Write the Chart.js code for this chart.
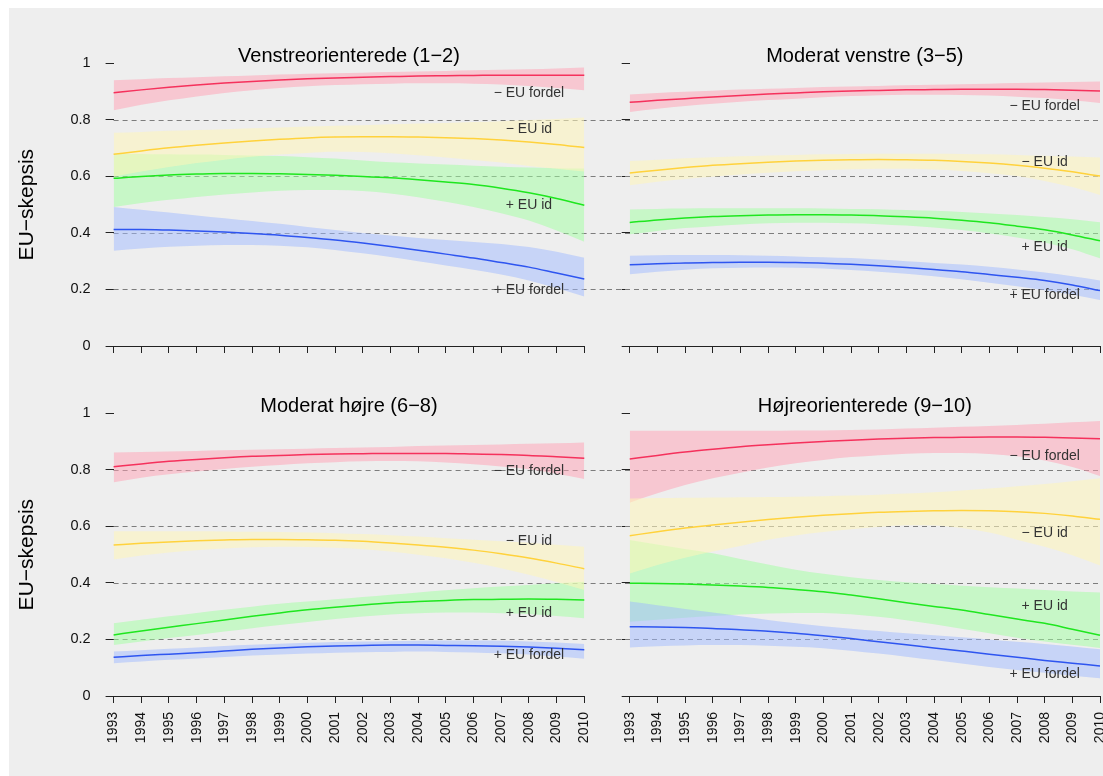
<!DOCTYPE html>
<html>
<head>
<meta charset="utf-8">
<script src="https://cdn.jsdelivr.net/npm/chart.js@4.4.1/dist/chart.umd.min.js"></script>
<style>
  html, body { margin: 0; padding: 0; background: #fff; }
  body { width: 1103px; height: 776px; position: relative; overflow: hidden; }
  #bg { position: absolute; left: 9px; top: 8px; right: 0; bottom: 0; background: #eeeeee; }
  canvas { position: absolute; }
</style>
</head>
<body>
<div id="bg"></div>
<canvas id="c1" width="607" height="380" style="left:0;top:0"></canvas>
<canvas id="c2" width="496" height="380" style="left:607px;top:0"></canvas>
<canvas id="c3" width="607" height="396" style="left:0;top:380px"></canvas>
<canvas id="c4" width="496" height="396" style="left:607px;top:380px"></canvas>
<script>
const years = ['1993','1994','1995','1996','1997','1998','1999','2000','2001','2002','2003','2004','2005','2006','2007','2008','2009','2010'];
const panelTitles = ['Venstreorienterede (1\u22122)', 'Moderat venstre (3\u22125)', 'Moderat h\u00f8jre (6\u22128)', 'H\u00f8jreorienterede (9\u221210)'];
const seriesNames = ['\u2212 EU fordel', '\u2212 EU id', '+ EU id', '+ EU fordel'];
const refLines = [0.2, 0.4, 0.6, 0.8];
const labelYear = '2008';

// Venstreorienterede (1-2)
const venstre_fordelMinus    = [.896,.906,.915,.923,.930,.936,.941,.945,.948,.951,.953,.955,.956,.957,.958,.958,.958,.958];
const venstre_fordelMinus_hi = [.940,.944,.948,.951,.954,.957,.960,.963,.965,.967,.969,.971,.973,.975,.977,.979,.982,.985];
const venstre_fordelMinus_lo = [.834,.853,.869,.883,.895,.905,.913,.919,.923,.926,.928,.929,.929,.928,.925,.920,.913,.905];
const venstre_idMinus        = [.678,.690,.701,.710,.718,.725,.731,.736,.739,.740,.740,.739,.737,.734,.729,.722,.713,.702];
const venstre_idMinus_hi     = [.754,.757,.761,.764,.767,.770,.773,.776,.779,.781,.784,.787,.789,.792,.795,.799,.803,.808];
const venstre_idMinus_lo     = [.599,.617,.633,.647,.659,.669,.677,.683,.687,.686,.682,.675,.667,.658,.649,.637,.627,.617];
const venstre_idPlus         = [.593,.600,.605,.608,.610,.610,.609,.607,.604,.600,.595,.588,.580,.571,.558,.542,.522,.498];
const venstre_idPlus_hi      = [.680,.679,.678,.677,.676,.674,.672,.668,.663,.656,.650,.646,.642,.638,.634,.631,.629,.628];
const venstre_idPlus_lo      = [.492,.506,.517,.527,.536,.543,.549,.552,.552,.548,.539,.526,.510,.492,.470,.444,.409,.369];
const venstre_fordelPlus     = [.412,.412,.410,.407,.403,.398,.392,.384,.375,.364,.352,.339,.325,.311,.295,.279,.258,.237];
const venstre_fordelPlus_hi  = [.492,.482,.472,.462,.452,.442,.432,.421,.410,.400,.391,.382,.375,.368,.361,.350,.333,.312];
const venstre_fordelPlus_lo  = [.337,.345,.351,.355,.357,.357,.355,.349,.340,.328,.315,.300,.285,.270,.253,.232,.205,.175];
const venstre_labelY = [.896, .766, .498, .198];

// Moderat venstre (3-5)
const modVenstre_fordelMinus    = [.862,.869,.875,.881,.886,.891,.895,.899,.902,.904,.906,.907,.908,.908,.908,.907,.905,.902];
const modVenstre_fordelMinus_hi = [.890,.895,.899,.903,.907,.910,.913,.916,.918,.920,.922,.924,.926,.928,.930,.932,.934,.936];
const modVenstre_fordelMinus_lo = [.828,.839,.849,.857,.864,.870,.875,.880,.884,.887,.889,.889,.888,.886,.882,.877,.869,.860];
const modVenstre_idMinus        = [.612,.622,.631,.639,.645,.650,.654,.657,.659,.660,.659,.657,.653,.647,.639,.629,.616,.601];
const modVenstre_idMinus_hi     = [.654,.659,.664,.668,.671,.674,.676,.678,.679,.680,.680,.680,.679,.678,.676,.673,.670,.667];
const modVenstre_idMinus_lo     = [.569,.581,.591,.599,.607,.613,.618,.622,.625,.627,.627,.624,.619,.611,.601,.584,.562,.534];
const modVenstre_idPlus         = [.437,.446,.453,.458,.461,.463,.464,.464,.463,.461,.457,.452,.445,.436,.424,.411,.393,.372];
const modVenstre_idPlus_hi      = [.483,.485,.486,.487,.487,.487,.487,.486,.485,.484,.481,.478,.474,.469,.463,.456,.448,.438];
const modVenstre_idPlus_lo      = [.395,.407,.417,.424,.430,.434,.436,.436,.434,.431,.426,.419,.410,.398,.384,.366,.342,.310];
const modVenstre_fordelPlus     = [.287,.291,.294,.295,.296,.296,.295,.293,.289,.284,.278,.271,.263,.253,.243,.232,.216,.196];
const modVenstre_fordelPlus_hi  = [.319,.321,.322,.322,.321,.319,.317,.314,.311,.306,.300,.294,.288,.280,.271,.260,.247,.232];
const modVenstre_fordelPlus_lo  = [.254,.263,.270,.275,.277,.278,.277,.274,.269,.263,.256,.247,.236,.224,.211,.197,.181,.163];
const modVenstre_labelY = [.848, .650, .349, .180];

// Moderat hoejre (6-8)
const modHojre_fordelMinus    = [.811,.821,.830,.837,.843,.848,.851,.854,.856,.857,.858,.858,.858,.856,.854,.851,.846,.841];
const modHojre_fordelMinus_hi = [.861,.863,.865,.867,.869,.871,.873,.875,.877,.879,.881,.884,.886,.888,.890,.892,.894,.897];
const modHojre_fordelMinus_lo = [.756,.772,.784,.794,.803,.811,.817,.823,.827,.830,.831,.830,.826,.820,.812,.802,.786,.768];
const modHojre_idMinus        = [.534,.540,.545,.549,.552,.554,.554,.553,.551,.547,.541,.534,.526,.516,.503,.488,.470,.450];
const modHojre_idMinus_hi     = [.583,.583,.583,.583,.582,.581,.580,.578,.576,.573,.569,.564,.558,.553,.547,.542,.535,.528];
const modHojre_idMinus_lo     = [.483,.497,.508,.516,.522,.526,.528,.527,.524,.519,.511,.500,.487,.471,.452,.429,.403,.375];
const modHojre_idPlus         = [.216,.230,.243,.256,.269,.282,.294,.305,.314,.322,.329,.334,.338,.341,.342,.343,.342,.340];
const modHojre_idPlus_hi      = [.257,.270,.282,.294,.305,.316,.326,.334,.342,.350,.358,.366,.374,.381,.387,.393,.399,.404];
const modHojre_idPlus_lo      = [.180,.193,.205,.216,.228,.240,.251,.262,.272,.281,.288,.293,.295,.295,.293,.290,.283,.275];
const modHojre_fordelPlus     = [.137,.143,.148,.153,.159,.165,.170,.174,.177,.179,.180,.180,.179,.178,.176,.173,.169,.164];
const modHojre_fordelPlus_hi  = [.157,.162,.167,.172,.177,.181,.185,.188,.191,.193,.194,.195,.196,.196,.195,.193,.189,.184];
const modHojre_fordelPlus_lo  = [.116,.122,.128,.133,.138,.143,.147,.150,.153,.155,.156,.157,.156,.154,.151,.147,.140,.132];
const modHojre_labelY = [.797, .548, .293, .145];

// Hoejreorienterede (9-10)
const hojre_fordelMinus    = [.838,.851,.863,.873,.882,.889,.895,.900,.905,.909,.912,.914,.915,.916,.916,.915,.913,.910];
const hojre_fordelMinus_hi = [.938,.938,.938,.938,.938,.938,.939,.939,.941,.943,.946,.949,.952,.955,.959,.963,.968,.973];
const hojre_fordelMinus_lo = [.684,.717,.746,.770,.790,.808,.823,.835,.845,.852,.857,.860,.860,.856,.848,.833,.810,.778];
const hojre_idMinus        = [.567,.581,.594,.605,.615,.624,.632,.639,.645,.650,.653,.655,.656,.655,.652,.646,.637,.625];
const hojre_idMinus_hi     = [.699,.700,.701,.702,.703,.704,.705,.707,.709,.712,.716,.721,.727,.734,.742,.750,.760,.770];
const hojre_idMinus_lo     = [.433,.463,.489,.511,.531,.553,.568,.580,.590,.598,.604,.603,.594,.578,.553,.528,.498,.462];
const hojre_idPlus         = [.399,.398,.396,.393,.389,.384,.377,.369,.357,.344,.330,.317,.304,.288,.272,.257,.236,.215];
const hojre_idPlus_hi      = [.552,.536,.520,.505,.485,.465,.447,.432,.420,.410,.402,.396,.390,.385,.380,.375,.370,.366];
const hojre_idPlus_lo      = [.263,.270,.277,.283,.288,.292,.294,.294,.289,.280,.268,.254,.238,.222,.206,.193,.181,.170];
const hojre_fordelPlus     = [.245,.244,.242,.239,.234,.229,.222,.213,.203,.192,.181,.170,.159,.148,.137,.126,.116,.106];
const hojre_fordelPlus_hi  = [.334,.321,.308,.295,.282,.269,.257,.247,.238,.230,.222,.215,.208,.200,.192,.184,.175,.165];
const hojre_fordelPlus_lo  = [.172,.176,.179,.180,.180,.178,.174,.169,.160,.150,.139,.127,.115,.103,.092,.082,.072,.063];
const hojre_labelY = [.849, .575, .318, .078];

const FONT = '"Liberation Sans", Arial, Helvetica, sans-serif';
Chart.defaults.font.family = FONT;

const lineColors = ['#f5315c', '#ffd23c', '#1fe61f', '#2e55f0'];
const bandColors = ['rgba(255,160,180,0.5)', 'rgba(255,245,185,0.55)', 'rgba(160,255,160,0.5)', 'rgba(160,185,255,0.5)'];
const bandOrder = [3, 2, 4, 1];

// draws the dashed guides, the series labels and the panel title
const extras = {
  id: 'extras',
  beforeDatasetsDraw(chart, args, o) {
    const ctx = chart.ctx, y = chart.scales.y, a = chart.chartArea;
    const x0 = o.leftCol ? a.left : 0;
    const x1 = o.leftCol ? chart.width : a.right;
    ctx.save();
    ctx.strokeStyle = '#7d7d7d';
    ctx.lineWidth = 1;
    ctx.setLineDash([5, 4]);
    refLines.forEach(v => {
      const py = Math.round(y.getPixelForValue(v)) + 0.5;
      ctx.beginPath();
      ctx.moveTo(x0, py);
      ctx.lineTo(x1, py);
      ctx.stroke();
    });
    ctx.restore();
  },
  afterDatasetsDraw(chart, args, o) {
    const ctx = chart.ctx, x = chart.scales.x, y = chart.scales.y, a = chart.chartArea;
    ctx.save();
    ctx.fillStyle = '#333';
    ctx.font = '14px ' + FONT;
    ctx.textAlign = 'center';
    ctx.textBaseline = 'middle';
    const lx = x.getPixelForValue(years.indexOf(labelYear));
    seriesNames.forEach((name, i) => ctx.fillText(name, lx, y.getPixelForValue(o.labelY[i])));
    ctx.fillStyle = '#000';
    ctx.font = '20px ' + FONT;
    ctx.textBaseline = 'alphabetic';
    ctx.fillText(o.title, (a.left + a.right) / 2, a.top - 1);
    ctx.restore();
  }
};

function buildDatasets(lines, his, los) {
  const ds = [];
  for (let s = 0; s < 4; s++) {
    ds.push({ data: his[s], fill: '+1', backgroundColor: bandColors[s], borderColor: 'transparent',
      borderWidth: 0, pointRadius: 0, order: bandOrder[s], cubicInterpolationMode: 'monotone' });
    ds.push({ data: los[s], fill: false, borderColor: 'transparent',
      borderWidth: 0, pointRadius: 0, order: bandOrder[s], cubicInterpolationMode: 'monotone' });
  }
  for (let s = 0; s < 4; s++) {
    ds.push({ data: lines[s], fill: false, borderColor: lineColors[s], borderWidth: 1.5,
      pointRadius: 0, order: 0, cubicInterpolationMode: 'monotone' });
  }
  return ds;
}

function makeChart(id, p) {
  return new Chart(document.getElementById(id), {
    type: 'line',
    data: { labels: years, datasets: buildDatasets(p.lines, p.his, p.los) },
    options: {
      responsive: false,
      animation: false,
      events: [],
      layout: { padding: { top: p.top, right: p.right, left: 0, bottom: 0 } },
      plugins: {
        legend: { display: false },
        tooltip: { enabled: false },
        extras: { leftCol: p.leftCol, title: p.title, labelY: p.labelY }
      },
      scales: {
        x: {
          type: 'category',
          offset: false,
          ticks: { display: p.bottomRow, autoSkip: false, minRotation: 90, maxRotation: 90,
                   padding: 9, color: '#111', font: { size: 14 } },
          grid: { drawOnChartArea: false, tickLength: 7, color: '#222' },
          border: { display: true, color: '#222', width: 1 },
          afterFit: s => { s.height = p.axisH; s.paddingLeft = 0; s.paddingRight = 0; }
        },
        y: {
          min: 0, max: 1,
          ticks: { display: p.leftCol, stepSize: 0.2, padding: 15, color: '#111', font: { size: 14.5 },
                   callback: v => String(Math.round(v * 10) / 10) },
          grid: { drawOnChartArea: false, tickLength: 8, color: '#222' },
          border: { display: false },
          title: { display: p.leftCol, text: 'EU\u2212skepsis', color: '#000', font: { size: 21 }, padding: { top: 15, bottom: 0 } },
          afterFit: s => { s.width = p.left; s.paddingTop = 0; s.paddingBottom = 0; }
        }
      }
    },
    plugins: [extras]
  });
}

makeChart('c1', {
  title: panelTitles[0], leftCol: true, bottomRow: false, left: 113.6, right: 22.7, top: 63.3, axisH: 34,
  lines: [venstre_fordelMinus, venstre_idMinus, venstre_idPlus, venstre_fordelPlus],
  his: [venstre_fordelMinus_hi, venstre_idMinus_hi, venstre_idPlus_hi, venstre_fordelPlus_hi],
  los: [venstre_fordelMinus_lo, venstre_idMinus_lo, venstre_idPlus_lo, venstre_fordelPlus_lo],
  labelY: venstre_labelY
});
makeChart('c2', {
  title: panelTitles[1], leftCol: false, bottomRow: false, left: 22.7, right: 3, top: 63.3, axisH: 34,
  lines: [modVenstre_fordelMinus, modVenstre_idMinus, modVenstre_idPlus, modVenstre_fordelPlus],
  his: [modVenstre_fordelMinus_hi, modVenstre_idMinus_hi, modVenstre_idPlus_hi, modVenstre_fordelPlus_hi],
  los: [modVenstre_fordelMinus_lo, modVenstre_idMinus_lo, modVenstre_idPlus_lo, modVenstre_fordelPlus_lo],
  labelY: modVenstre_labelY
});
makeChart('c3', {
  title: panelTitles[2], leftCol: true, bottomRow: true, left: 113.6, right: 22.7, top: 33.3, axisH: 80,
  lines: [modHojre_fordelMinus, modHojre_idMinus, modHojre_idPlus, modHojre_fordelPlus],
  his: [modHojre_fordelMinus_hi, modHojre_idMinus_hi, modHojre_idPlus_hi, modHojre_fordelPlus_hi],
  los: [modHojre_fordelMinus_lo, modHojre_idMinus_lo, modHojre_idPlus_lo, modHojre_fordelPlus_lo],
  labelY: modHojre_labelY
});
makeChart('c4', {
  title: panelTitles[3], leftCol: false, bottomRow: true, left: 22.7, right: 3, top: 33.3, axisH: 80,
  lines: [hojre_fordelMinus, hojre_idMinus, hojre_idPlus, hojre_fordelPlus],
  his: [hojre_fordelMinus_hi, hojre_idMinus_hi, hojre_idPlus_hi, hojre_fordelPlus_hi],
  los: [hojre_fordelMinus_lo, hojre_idMinus_lo, hojre_idPlus_lo, hojre_fordelPlus_lo],
  labelY: hojre_labelY
});
</script>
</body>
</html>
